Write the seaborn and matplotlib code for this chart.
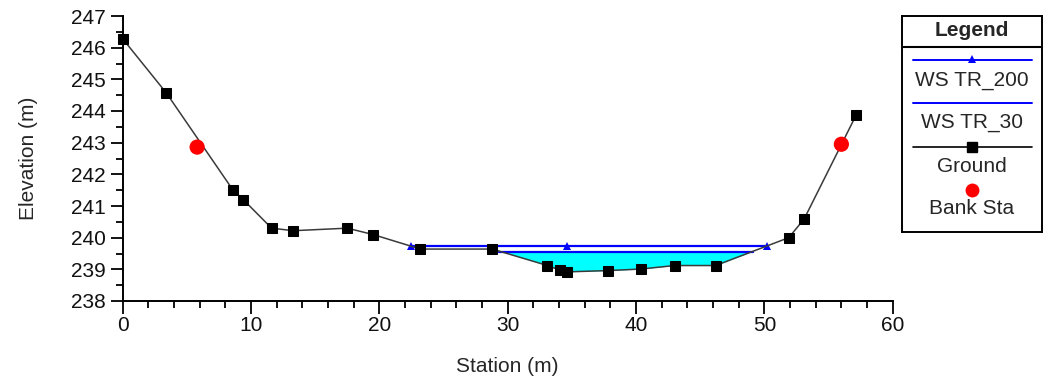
import numpy as np
import pandas as pd
import matplotlib
matplotlib.use("Agg")
import matplotlib.pyplot as plt
import seaborn as sns
from matplotlib.ticker import MultipleLocator

# ---- data ----
ground_sta = [0.0, 3.4, 8.6, 9.4, 11.6, 13.3, 17.5, 19.5, 23.2, 28.8, 33.1, 34.1, 34.6,
              37.8, 40.4, 43.0, 46.2, 51.9, 53.1, 57.15]
ground_elev = [246.28, 244.57, 241.5, 241.2, 240.3, 240.22, 240.3, 240.1, 239.64, 239.64,
               239.12, 238.97, 238.92, 238.96, 239.01, 239.12, 239.12, 240.0, 240.59, 243.87]
bank_sta = [5.8, 56.0]
bank_elev = [242.86, 242.95]
ws200_sta = [22.47, 34.65, 50.2]
ws200_elev = [239.75, 239.75, 239.75]
ws30_sta = [29.3, 49.1]
ws30_elev = [239.54, 239.54]
x_ticks = [0, 10, 20, 30, 40, 50, 60]
y_ticks = [238, 239, 240, 241, 242, 243, 244, 245, 246, 247]
legend_labels = ["WS TR_200", "WS TR_30", "Ground", "Bank Sta"]

sns.set_style("ticks")
plt.rcParams['font.family'] = ['Liberation Sans', 'DejaVu Sans']

W, H = 1051, 384
fig = plt.figure(figsize=(W / 100, H / 100), dpi=100)
ax = fig.add_axes([122.7 / W, (H - 301) / H, 770 / W, 285 / H])

ground = pd.DataFrame({"Station": ground_sta, "Elevation": ground_elev})
gx = np.array(ground_sta)
gy = np.array(ground_elev)

# water fill for WS TR_30
ws30 = ws30_elev[0]
ax.fill_between(gx, gy, ws30, where=(gy <= ws30), interpolate=True,
                color="#00ffff", linewidth=0, zorder=1)

# water surface lines
sns.lineplot(x=ws30_sta, y=ws30_elev, ax=ax, color="#0000ff", linewidth=1.6,
             estimator=None, sort=False, zorder=3)
sns.lineplot(x=ws200_sta, y=ws200_elev, ax=ax, color="#0000ff", linewidth=1.6,
             marker="^", markersize=6, markeredgewidth=0, estimator=None, sort=False, zorder=3)

# ground
sns.lineplot(data=ground, x="Station", y="Elevation", ax=ax, color="#3a3a3a", linewidth=1.1,
             marker="s", markersize=7, markerfacecolor="black", markeredgecolor="black",
             estimator=None, sort=False, zorder=4, clip_on=False)
# bank stations
sns.scatterplot(x=bank_sta, y=bank_elev, ax=ax, color="#ff0000", s=120, edgecolor="none",
                zorder=5, clip_on=False)

ax.set_xlim(0, 60)
ax.set_ylim(238, 247)
ax.set_xticks(x_ticks)
ax.set_yticks(y_ticks)
ax.xaxis.set_minor_locator(MultipleLocator(2))
ax.yaxis.set_minor_locator(MultipleLocator(0.5))
sns.despine(ax=ax)
for s in ["left", "bottom"]:
    ax.spines[s].set_linewidth(1.4)
    ax.spines[s].set_color("black")
    ax.spines[s].set_zorder(2)
ax.tick_params(which="major", length=9, width=1.3, color="black", labelsize=15,
               labelcolor="#111111")
ax.tick_params(axis="y", which="major", pad=3)
ax.tick_params(axis="x", which="major", pad=2)
ax.tick_params(which="minor", length=5, width=1.3, color="black")
ax.set_xlabel("Station (m)", fontsize=15, labelpad=16)
ax.set_ylabel("Elevation (m)", fontsize=15, labelpad=24)

# ---- legend panel ----
lx0, lx1, ly0, ly1 = 902, 1042, 16, 232
lax = fig.add_axes([lx0 / W, (H - ly1) / H, (lx1 - lx0) / W, (ly1 - ly0) / H])
lax.set_xlim(lx0, lx1)
lax.set_ylim(ly1, ly0)
lax.set_xticks([])
lax.set_yticks([])
for s in lax.spines.values():
    s.set_linewidth(1.4)
    s.set_color("black")
lax.plot([lx0, lx1], [46.5, 46.5], color="black", linewidth=1.5)
cx = (lx0 + lx1) / 2
lax.text(cx, 30, "Legend", ha="center", va="center", fontsize=15, fontweight="bold")
lx_a, lx_b = 913, 1032
# WS TR_200
lax.plot([lx_a, lx_b], [60, 60], color="#0000ff", linewidth=1.4)
lax.plot([cx], [59], marker="^", color="#0000ff", markersize=6, markeredgewidth=0)
lax.text(cx, 80, legend_labels[0], ha="center", va="center", fontsize=15)
# WS TR_30
lax.plot([lx_a, lx_b], [103, 103], color="#0000ff", linewidth=1.4)
lax.text(cx, 123, legend_labels[1], ha="center", va="center", fontsize=15)
# Ground
lax.plot([lx_a, lx_b], [147, 147], color="black", linewidth=1.2)
lax.plot([cx], [147], marker="s", color="black", markersize=7)
lax.text(cx, 166, legend_labels[2], ha="center", va="center", fontsize=15)
# Bank Sta
lax.plot([cx], [190], marker="o", color="#ff0000", markersize=10, markeredgewidth=0)
lax.text(cx, 209, legend_labels[3], ha="center", va="center", fontsize=15)

fig.savefig("out.png", dpi=100)
